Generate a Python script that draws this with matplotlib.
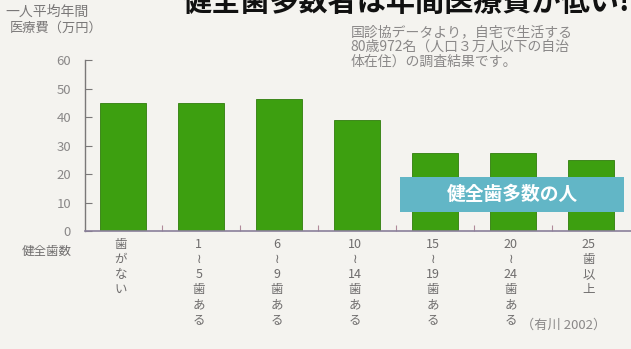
import matplotlib
matplotlib.use("Agg")
import matplotlib.pyplot as plt
from matplotlib.patches import Rectangle

plt.rcParams['font.family'] = ['Noto Sans CJK JP', 'DejaVu Sans']

# data
categories = [
    ["歯", "が", "な", "い"],
    ["1", "≀", "5", "歯", "あ", "る"],
    ["6", "≀", "9", "歯", "あ", "る"],
    ["10", "≀", "14", "歯", "あ", "る"],
    ["15", "≀", "19", "歯", "あ", "る"],
    ["20", "≀", "24", "歯", "あ", "る"],
    ["25", "歯", "以", "上"],
]
costs = [45, 45, 46.5, 39, 27.5, 27.5, 25]
yticks = [0, 10, 20, 30, 40, 50, 60]

bg = '#f4f3ef'
green = '#3d9f10'
grey = '#7a7878'

fig = plt.figure(figsize=(6.31, 3.49), dpi=100, facecolor=bg)
ax = fig.add_axes([0.1347, 0.338, 0.8653, 0.49])
ax.set_facecolor(bg)

x = list(range(len(costs)))
ax.bar(x, costs, width=0.59, color=green, edgecolor='#2f7d0c', linewidth=0.6)

ax.set_xlim(-0.49, 6.51)
ax.set_ylim(0, 60)
ax.set_yticks(yticks)
ax.set_yticklabels([str(v) for v in yticks], color='#8a8888', fontsize=9.5)
ax.tick_params(axis='y', direction='in', length=5, color=grey, pad=10)
ax.set_xticks([i + 0.5 for i in range(len(costs) - 1)])
ax.set_xticklabels([])
ax.tick_params(axis='x', direction='in', length=4, color='#b08a9a')
for s in ['top', 'right']:
    ax.spines[s].set_visible(False)
ax.spines['left'].set_color(grey)
ax.spines['bottom'].set_color('#8a7f9a')
ax.spines['left'].set_linewidth(1)
ax.spines['bottom'].set_linewidth(1.2)

# vertical tick labels
for i, chars in enumerate(categories):
    ax.text(i - 0.03, -0.04, "\n".join(chars), transform=ax.get_xaxis_transform(),
            ha='center', va='top', fontsize=9, color='#6f6d6d', linespacing=1.2)

ax.text(-0.024, -0.12, "健全歯数", transform=ax.transAxes, ha='right', va='center',
        fontsize=9, color='#6f6d6d')

# teal banner
ax.add_patch(Rectangle((0.577, 0.111), 0.41, 0.205, transform=ax.transAxes,
                       facecolor='#62b6c6', edgecolor='none', zorder=5))
ax.text(0.782, 0.213, "健全歯多数の人", transform=ax.transAxes, ha='center', va='center',
        fontsize=13.5, color='white', fontweight='bold', zorder=6)

# texts around
fig.text(0.008, 0.965, "一人平均年間", fontsize=10, color='#7a7878', va='center')
fig.text(0.015, 0.92, "医療費（万円）", fontsize=9.5, color='#7a7878', va='center')
fig.text(0.29, 0.952, "健全歯多数者は年間医療費が低い!", fontsize=21, fontweight='bold',
         color='#111111', va='bottom')
fig.text(0.556, 0.865,
         "国診協データより，自宅で生活する\n80歳972名（人口３万人以下の自治\n体在住）の調査結果です。",
         fontsize=10, color='#8a8888', va='center', linespacing=1.05)
fig.text(0.825, 0.068, "（有川 2002）", fontsize=9.5, color='#8a8888', va='center')

fig.savefig("out.png", dpi=100, facecolor=bg)
